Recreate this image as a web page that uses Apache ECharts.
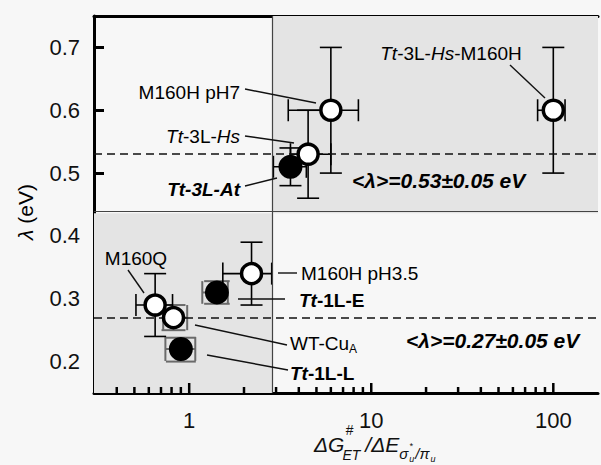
<!DOCTYPE html>
<html><head><meta charset="utf-8">
<script src="https://cdn.jsdelivr.net/npm/echarts@6/dist/echarts.min.js"></script>
<style>html,body{margin:0;padding:0;background:#f7f7f7}#c{width:601px;height:465px}</style>
</head><body><div id="c"></div>
<script>
// ---- data ----
const names      = ['Tt-3L-Hs-M160H','M160H pH7','Tt-3L-Hs','Tt-3L-At','M160H pH3.5','Tt-1L-E','M160Q','WT-CuA','Tt-1L-L'];
const ratio      = [100,  6.0, 4.5, 3.6, 2.2,  1.42, 0.65, 0.82, 0.90];
const ratioLow   = [82,   3.5, 3.6, 2.9, 1.53, 1.18, 0.51, 0.72, 0.74];
const ratioHigh  = [116,  8.5, 6.0, 4.4, 2.84, 1.63, 0.81, 0.975,1.08];
const lambda     = [0.60, 0.60, 0.53, 0.51, 0.34, 0.31, 0.29, 0.27, 0.22];
const lambdaLow  = [0.50, 0.50, 0.46, 0.48, 0.29, 0.292,0.24, 0.25, 0.20];
const lambdaHigh = [0.70, 0.70, 0.60, 0.54, 0.39, 0.328,0.34, 0.29, 0.238];
const filledIdx  = [3, 5, 8];        // solid symbols
const boxedIdx   = [5, 7, 8];        // grey box-style error bars
const meanLambda = [0.53, 0.27];
const regionSplit = [2.85, 0.436];
const xTickLabels = [1, 10, 100];
const xMinorTicks = [0.4,0.5,0.6,0.7,0.8,0.9,2,3,4,5,6,7,8,9,20,30,40,50,60,70,80,90];
const yTickLabels = [0.2,0.3,0.4,0.5,0.6,0.7];
const xRange = [0.3, 176];
const yRange = [0.15, 0.75];

const FONT = 'Liberation Sans, Arial, Helvetica, sans-serif';
const chart = echarts.init(document.getElementById('c'), null, {renderer:'svg'});

function row(i){ return [ratio[i], lambda[i], ratioLow[i], ratioHigh[i], lambdaLow[i], lambdaHigh[i], names[i]]; }
const allIdx = names.map((_, i) => i);
const normalErr = allIdx.filter(i => boxedIdx.indexOf(i) < 0).map(row);
const boxErr = boxedIdx.map(row);
const openPts = allIdx.filter(i => filledIdx.indexOf(i) < 0).map(row);
const filledPts = filledIdx.map(row);

function errRender(box){
  return function(params, api){
    const x=api.value(0), y=api.value(1);
    const c=api.coord([x,y]);
    const xl=api.coord([api.value(2),y]), xh=api.coord([api.value(3),y]);
    const yl=api.coord([x,api.value(4)]), yh=api.coord([x,api.value(5)]);
    const capV = box ? Math.abs(yl[1]-yh[1])/2 : 11;
    const capH = box ? Math.abs(xh[0]-xl[0])/2 : 11;
    const st = {stroke: box ? '#6a6a6a' : '#000', lineWidth: box ? 2 : 1.6};
    const L = (x1,y1,x2,y2) => ({type:'line', shape:{x1,y1,x2,y2}, style:st});
    return {type:'group', children:[
      L(xl[0],c[1],xh[0],c[1]),
      L(xl[0],c[1]-capV,xl[0],c[1]+capV),
      L(xh[0],c[1]-capV,xh[0],c[1]+capV),
      L(c[0],yl[1],c[0],yh[1]),
      L(c[0]-capH,yl[1],c[0]+capH,yl[1]),
      L(c[0]-capH,yh[1],c[0]+capH,yh[1])
    ]};
  };
}

const tickData = xMinorTicks.map(v => [v, yRange[0], 0]).concat(xTickLabels.map(v => [v, yRange[0], 1]));

const option = {
  backgroundColor: '#f7f7f7',
  animation: false,
  grid: {left: 94, top: 16, right: 1, bottom: 72, containLabel: false},
  xAxis: [{
    type: 'log', logBase: 10, min: xRange[0], max: xRange[1], splitNumber: 3,
    axisLine: {show: true, lineStyle: {color: '#000', width: 3}},
    axisTick: {show: false}, splitLine: {show: false}, minorTick:{show:false},
    axisLabel: {
      margin: 16, fontSize: 22, color: '#111', fontFamily: FONT,
      formatter: v => { const r = Math.round(v); return (xTickLabels.indexOf(r) >= 0 && Math.abs(v - r) < 1e-6) ? String(r) : ''; }
    }
  }, {
    type: 'log', logBase: 10, min: xRange[0], max: xRange[1], position: 'top',
    axisLine: {show: true, lineStyle: {color: '#000', width: 3}},
    axisTick: {show: false}, axisLabel: {show: false}, splitLine: {show: false}
  }],
  yAxis: {
    type: 'value', min: yRange[0], max: yRange[1], splitNumber: 6,
    axisLine: {show: true, lineStyle: {color: '#000', width: 3}},
    axisTick: {show: true, inside: true, length: 10, lineStyle: {color: '#000', width: 3}},
    splitLine: {show: false},
    axisLabel: {
      margin: 14, fontSize: 22, color: '#111', fontFamily: FONT,
      formatter: v => { const r = Math.round(v*10)/10; return (yTickLabels.indexOf(r) >= 0 && Math.abs(v - r) < 1e-6) ? r.toFixed(1) : ''; }
    }
  },
  series: [
    { // shaded quadrants, dividers and mean lines
      type: 'scatter', data: [], silent: true, z: 1,
      markArea: {
        silent: true, itemStyle: {color: '#e4e4e4'},
        data: [
          [{coord: [regionSplit[0], regionSplit[1]]}, {coord: [xRange[1], yRange[1]]}],
          [{coord: [xRange[0], yRange[0]]}, {coord: [regionSplit[0], regionSplit[1]]}]
        ]
      },
      markLine: {
        silent: true, symbol: 'none', label: {show: false},
        data: [
          {xAxis: regionSplit[0], lineStyle: {color: '#444', width: 1.2, type: 'solid'}},
          {yAxis: regionSplit[1], lineStyle: {color: '#444', width: 1.2, type: 'solid'}},
          {yAxis: meanLambda[0], lineStyle: {color: '#111', width: 1.5, type: [8, 5]}},
          {yAxis: meanLambda[1], lineStyle: {color: '#111', width: 1.5, type: [8, 5]}}
        ]
      }
    },
    { // minor/major x ticks, drawn inward
      type: 'custom', data: tickData, z: 5, silent: true,
      renderItem: (p, api) => {
        const c = api.coord([api.value(0), api.value(1)]);
        const len = api.value(2) ? 10 : 6;
        return {type: 'line', shape: {x1: c[0], y1: c[1], x2: c[0], y2: c[1] - len}, style: {stroke: '#000', lineWidth: 2.5}};
      }
    },
    {type: 'custom', data: boxErr, renderItem: errRender(true), z: 3, silent: true},
    {type: 'custom', data: normalErr, renderItem: errRender(false), z: 3, silent: true},
    {type: 'scatter', data: filledPts, symbol: 'circle', symbolSize: 24, z: 4,
      itemStyle: {color: '#000', opacity: 1}},
    {type: 'scatter', data: openPts, symbol: 'circle', symbolSize: 20, z: 5,
      itemStyle: {color: '#fff', borderColor: '#000', borderWidth: 3.5, opacity: 1}}
  ]
};

// annotation labels & leader lines (pixel layout)
const rich = {
  i: {fontStyle: 'italic', fontSize: 19, fontFamily: FONT, color: '#111'},
  n: {fontSize: 19, fontFamily: FONT, color: '#111'},
  bi: {fontStyle: 'italic', fontWeight: 'bold', fontSize: 19, fontFamily: FONT, color: '#111'},
  b: {fontWeight: 'bold', fontSize: 19, fontFamily: FONT, color: '#111'},
  sub: {fontSize: 12, fontFamily: FONT, color: '#111', padding: [12, 0, 0, 0]},
  m: {fontStyle: 'italic', fontWeight: 'bold', fontSize: 21, fontFamily: FONT, color: '#111'}
};
const labels = [
  {t: '{n|M160H pH7}', x: 240, y: 92, a: 'right', line: [245, 89, 316, 103]},
  {t: '{i|Tt}{n|-3L-}{i|Hs}', x: 240, y: 136, a: 'right', line: [245, 136, 294, 143]},
  {t: '{bi|Tt-3L-At}', x: 240, y: 189, a: 'right', line: [245, 186, 277, 178]},
  {t: '{i|Tt}{n|-3L-}{i|Hs}{n|-M160H}', x: 451, y: 53, a: 'center', line: [510, 65, 545, 98]},
  {t: '{m|<λ>=0.53±0.05 eV}', x: 352, y: 180, a: 'left'},
  {t: '{n|M160Q}', x: 136, y: 258, a: 'center', line: [128, 270, 144, 293]},
  {t: '{n|M160H pH3.5}', x: 301, y: 273, a: 'left', line: [278, 273, 297, 273]},
  {t: '{bi|Tt}{b|-1L-E}', x: 299, y: 300, a: 'left', line: [238, 299, 285, 299]},
  {t: '{n|WT-Cu}{sub|A}', x: 290, y: 343, a: 'left', line: [195, 325, 287, 345]},
  {t: '{bi|Tt}{b|-1L-L}', x: 290, y: 373, a: 'left', line: [207, 355, 288, 370]},
  {t: '{m|<λ>=0.27±0.05 eV}', x: 406, y: 340, a: 'left'}
];
const graphics = [];
labels.forEach(l => {
  graphics.push({type: 'text', x: l.x, y: l.y, z: 20,
    style: {text: l.t, rich: rich, align: l.a, verticalAlign: 'middle', textAlign: l.a, textVerticalAlign: 'middle'}});
  if (l.line) graphics.push({type: 'line', z: 20, shape: {x1: l.line[0], y1: l.line[1], x2: l.line[2], y2: l.line[3]},
    style: {stroke: '#111', lineWidth: 1.4}});
});
// y axis title
graphics.push({type: 'text', x: 25, y: 212, rotation: Math.PI/2, z: 20,
  style: {text: '{i|λ}{n| (eV)}', rich: {i: {fontStyle:'italic', fontSize: 21, fontFamily: FONT, color:'#111'}, n: {fontSize: 21, fontFamily: FONT, color:'#111'}},
    align: 'center', verticalAlign: 'middle', textAlign: 'center', textVerticalAlign: 'middle'}});
// x axis title pieces
const cv = document.createElement('canvas').getContext('2d');
function w(txt, font){ cv.font = font; return cv.measureText(txt).width; }
const fBig = 'italic 21px ' + FONT, fSub = 'italic 14px ' + FONT, fS2 = 'italic 15px ' + FONT, fTiny = 'italic 9px ' + FONT;
let x0 = 314;
function piece(txt, x, y, font){ graphics.push({type:'text', x: x, y: y, z: 20, style:{text: txt, font: font, fill:'#111', align:'left', verticalAlign:'middle', textAlign:'left', textVerticalAlign:'middle'}}); }
piece('ΔG', x0, 444, fBig); x0 += w('ΔG', fBig);
piece('#', x0 + 1, 430, fSub); piece('ET', x0 - 2, 455, fSub);
x0 += Math.max(w('#', fSub) + 1, w('ET', fSub) - 2) + 5;
piece('/ΔE', x0, 444, fBig); x0 += w('/ΔE', fBig);
piece('σ', x0, 453, fS2); const xs = x0 + w('σ', fS2) + 1;
piece('*', xs, 446, fTiny); piece('u', xs, 459, fTiny); x0 = xs + w('u', fTiny) + 1;
piece('/π', x0, 453, fS2); x0 += w('/π', fS2) + 1;
piece('u', x0, 459, fTiny);
option.graphic = {elements: graphics};
chart.setOption(option);
</script></body></html>
